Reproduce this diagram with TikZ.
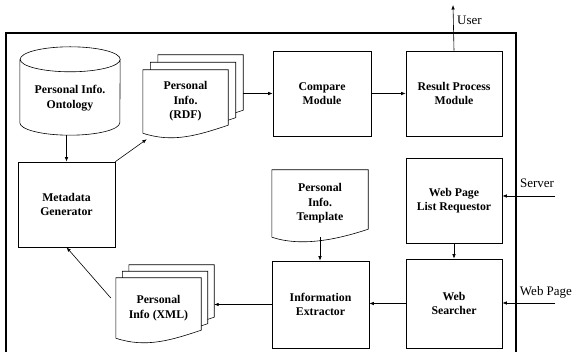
\documentclass[tikz,border=0pt]{standalone}
\usepackage{fontspec}
\setmainfont{Liberation Serif}
\usetikzlibrary{arrows.meta,backgrounds}

\newcommand\boxfont{\fontsize{11.8}{14.5}\selectfont\bfseries}

\begin{document}
\begin{tikzpicture}[x=1pt,y=1pt,
    box/.style={draw,line width=0.6pt,align=center,font=\boxfont},
    doc/.style={align=center,font=\boxfont,inner sep=0pt},
    arr/.style={-{Latex[length=4.5pt,width=3.5pt]},line width=0.6pt},
    lbl/.style={font=\fontsize{13}{15}\selectfont,inner sep=1pt}]
    \useasboundingbox (0,0) rectangle (575,352);
    \draw[line width=1.6pt] (6,-10) rectangle (516,319);

    % cylinder: the node's lower edge sits 14pt under the drum
    \node[doc,minimum width=100pt,minimum height=102pt] (onto) at (70,254) {Personal Info.\\Ontology};
    \draw[line width=0.6pt] ([yshift=-12.5pt]onto.north west) -- ([yshift=26.5pt]onto.south west)
        arc[start angle=180,end angle=360,x radius=50pt,y radius=12.5pt]
        -- ([yshift=-12.5pt]onto.north east)
        arc[start angle=0,end angle=360,x radius=50pt,y radius=12.5pt];

    \node[doc,minimum width=85pt,minimum height=63pt] (rdf3) at (200.5,265.5) {};
    \node[doc,minimum width=85pt,minimum height=63pt] (rdf2) at (193,258) {};
    \node[doc,minimum width=85pt,minimum height=63pt] (rdf) at (185.5,250.5) {Personal\\Info.\\(RDF)};

    \node[box,minimum width=98pt,minimum height=85pt] (cmp) at (322,258.5) {Compare\\Module};
    \node[box,minimum width=96pt,minimum height=85pt] (res) at (454,258.5) {Result Process\\Module};
    \node[box,minimum width=97pt,minimum height=85pt] (meta) at (66.5,147.5) {Metadata\\Generator};
    \node[doc,minimum width=96pt,minimum height=67pt] (tmpl) at (320,148.5) {Personal\\Info.\\Template};
    \node[box,minimum width=96pt,minimum height=85pt] (req) at (454,151.5) {Web Page\\List Requestor};
    \node[box,minimum width=96pt,minimum height=89pt] (srch) at (454,48.5) {Web\\Searcher};
    \node[box,minimum width=97pt,minimum height=87pt] (extr) at (320.5,47.5) {Information\\Extractor};

    \node[doc,minimum width=85pt,minimum height=60pt] (xml3) at (171.5,57) {};
    \node[doc,minimum width=85pt,minimum height=60pt] (xml2) at (165,50.5) {};
    \node[doc,minimum width=85pt,minimum height=60pt] (xml) at (158.5,44) {Personal\\Info (XML)};

    % document outlines with the wavy lower edge
    \begin{scope}[on background layer]
        \foreach \d in {rdf3,rdf2,rdf,tmpl,xml3,xml2,xml}
            \draw[line width=0.6pt,fill=white] (\d.south west) -- (\d.north west) -- (\d.north east)
                -- ([yshift=8pt]\d.south east)
                .. controls ([xshift=-30pt,yshift=-2pt]\d.south east) and ([xshift=30pt,yshift=-10pt]\d.south west)
                .. (\d.south west) -- cycle;
    \end{scope}

    \coordinate (user) at (453,347);
    \coordinate (server) at (555,156);
    \coordinate (webpage) at (555,49);
    \node[lbl,anchor=west] (userlbl) at (456,332) {User};
    \node[lbl] (serverlbl) at (537,169) {Server};
    \node[lbl] (webpagelbl) at (546,60) {Web Page};

    \draw[arr] ([yshift=14pt]onto.south -| meta.north) -- (meta.north);
    \draw[arr] (meta.north east) -- ([shift={(4pt,-6pt)}]rdf.south west);
    \draw[arr] (cmp.west -| rdf3.east) -- (cmp.west);
    \draw[arr] (cmp) -- (res);
    \draw[arr] (res.north) -- (user);
    \draw[arr] (server) -- (server -| req.east);
    \draw[arr] (webpage) -- (webpage -| srch.east);
    \draw[arr] (req) -- (srch);
    \draw[arr] (srch.west) -- (srch.west -| extr.east);
    \draw[arr] (extr.west) -- (extr.west -| xml3.east);
    \draw[arr] ([shift={(-5pt,10pt)}]xml.west) -- (meta.south);
    \draw[arr] (tmpl.south) -- (tmpl.south |- extr.north);
\end{tikzpicture}
\end{document}
